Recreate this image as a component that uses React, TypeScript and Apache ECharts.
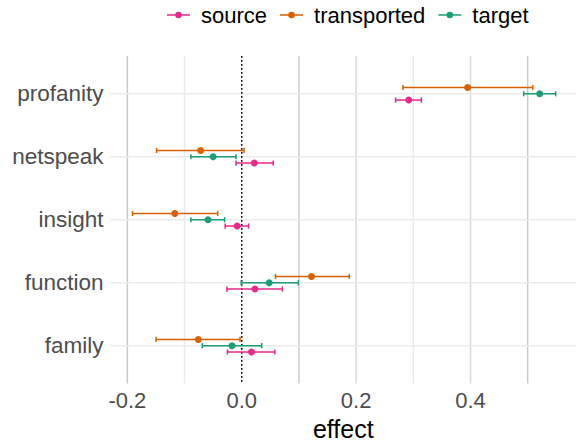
import React, { useEffect, useRef } from "react";
import * as echarts from "echarts";

// categories bottom -> top
const categories = ["family", "function", "insight", "netspeak", "profanity"];
const seriesNames = ["source", "transported", "target"];

const sourceEst = [0.017, 0.023, -0.008, 0.022, 0.292];
const sourceLo = [-0.025, -0.026, -0.029, -0.010, 0.269];
const sourceHi = [0.058, 0.071, 0.012, 0.055, 0.314];

const transportedEst = [-0.076, 0.122, -0.117, -0.072, 0.395];
const transportedLo = [-0.150, 0.059, -0.191, -0.149, 0.282];
const transportedHi = [-0.003, 0.188, -0.042, 0.004, 0.509];

const targetEst = [-0.017, 0.048, -0.059, -0.050, 0.521];
const targetLo = [-0.069, -0.001, -0.089, -0.089, 0.493];
const targetHi = [0.035, 0.099, -0.030, -0.010, 0.549];

const xTickLabels = [-0.2, 0.0, 0.2, 0.4];
const xGridValues = [-0.2, -0.1, 0.0, 0.1, 0.2, 0.3, 0.4, 0.5];
const xGridColors = ["#c9c9c9", "#ebebeb", "#ebebeb", "#cbcbcb", "#d9d9d9", "#ebebeb", "#d9d9d9", "#c9c9c9"];

const colors: Record<string, string> = {
  source: "#E7298A",
  transported: "#D95F02",
  target: "#1B9E77",
};
const dodge: Record<string, number> = { source: -0.1, transported: 0.1, target: 0 };

const FONT = "'Liberation Sans', Helvetica, Arial, sans-serif";

const legendIcon =
  "path://M0,3.3H23V4.7H0Z M8.2,4A3.3,3.3 0 1,1 14.8,4A3.3,3.3 0 1,1 8.2,4Z";

export default function App() {
  const ref = useRef<HTMLDivElement>(null);
  useEffect(() => {
    document.body.style.margin = "0";
    const chart = echarts.init(ref.current!, null, { renderer: "svg" });
    const groups: Record<string, number[][]> = {
      source: [sourceEst, sourceLo, sourceHi],
      transported: [transportedEst, transportedLo, transportedHi],
      target: [targetEst, targetLo, targetHi],
    };

    const series: any[] = [];
    // vertical grid lines (x) and zero reference line
    series.push({
      type: "custom",
      name: "_vgrid",
      silent: true,
      z: 1,
      data: xGridValues.map((v, i) => [v, i]),
      encode: { x: 0 },
      renderItem: (params: any, api: any) => {
        const cs = params.coordSys;
        const v = api.value(0);
        const x = api.coord([v, 1])[0];
        const i = api.value(1);
        return {
          type: "line",
          shape: { x1: x, y1: cs.y, x2: x, y2: cs.y + cs.height },
          style: { stroke: xGridColors[i], lineWidth: 1.5 },
        };
      },
    });
    series.push({
      type: "custom",
      name: "_hgrid",
      silent: true,
      z: 1,
      data: categories.map((_, i) => [i + 1]),
      encode: { y: 0 },
      renderItem: (params: any, api: any) => {
        const cs = params.coordSys;
        const y = api.coord([0, api.value(0)])[1];
        return {
          type: "line",
          shape: { x1: cs.x, y1: y, x2: cs.x + cs.width, y2: y },
          style: { stroke: "#ebebeb", lineWidth: 1.5 },
        };
      },
    });
    series.push({
      type: "custom",
      name: "_zero",
      silent: true,
      z: 2,
      data: [[0]],
      encode: { x: 0 },
      renderItem: (params: any, api: any) => {
        const cs = params.coordSys;
        const x = api.coord([api.value(0), 1])[0];
        return {
          type: "line",
          shape: { x1: x, y1: cs.y, x2: x, y2: cs.y + cs.height },
          style: { stroke: "#000", lineWidth: 1.4, lineDash: [1.8, 2.2] },
        };
      },
    });

    seriesNames.forEach((name) => {
      const [est, lo, hi] = groups[name];
      const color = colors[name];
      series.push({
        type: "custom",
        name,
        z: 3,
        silent: true,
        itemStyle: { color },
        data: categories.map((_, i) => [lo[i], hi[i], i + 1 + dodge[name], est[i]]),
        encode: { x: [0, 1, 3], y: 2 },
        renderItem: (params: any, api: any) => {
          const y = api.value(2);
          const a = api.coord([api.value(0), y]);
          const b = api.coord([api.value(1), y]);
          const c = api.coord([api.value(3), y]);
          const h = 2.6;
          const style = { stroke: color, lineWidth: 1.5, fill: null };
          return {
            type: "group",
            children: [
              { type: "line", shape: { x1: a[0], y1: a[1], x2: b[0], y2: b[1] }, style },
              { type: "line", shape: { x1: a[0], y1: a[1] - h, x2: a[0], y2: a[1] + h }, style },
              { type: "line", shape: { x1: b[0], y1: b[1] - h, x2: b[0], y2: b[1] + h }, style },
              { type: "circle", shape: { cx: c[0], cy: c[1], r: 3.5 }, style: { fill: color, stroke: null } },
            ],
          };
        },
      });
    });

    chart.setOption({
      animation: false,
      textStyle: { fontFamily: FONT },
      color: seriesNames.map((n) => colors[n]),
      legend: {
        data: seriesNames.map((n) => ({ name: n, icon: legendIcon, itemStyle: { color: colors[n] } })),
        left: 162,
        top: -1,
        itemWidth: 23,
        itemHeight: 8,
        itemGap: 13,
        textStyle: { fontSize: 22, color: "#000", fontFamily: FONT, padding: [0, 0, 0, 6] },
        selectedMode: false,
      },
      grid: { left: 110.5, right: 1, top: 56, bottom: 58.5, containLabel: false, outerBoundsMode: "none" },
      xAxis: {
        type: "value",
        min: -0.2295,
        max: 0.5845,
        axisLine: { show: false },
        axisTick: { show: false },
        splitLine: { show: false },
        axisLabel: {
          customValues: xTickLabels,
          formatter: (v: number) => v.toFixed(1),
          fontSize: 22,
          color: "#4d4d4d",
          margin: 6,
          fontFamily: FONT,
        },
        name: "effect",
        nameLocation: "middle",
        nameGap: 31,
        nameTextStyle: { fontSize: 25, color: "#000", fontFamily: FONT, lineHeight: 26 },
      },
      yAxis: {
        type: "value",
        min: 0.4,
        max: 5.6,
        axisLine: { show: false },
        axisTick: { show: false },
        splitLine: { show: false },
        axisLabel: {
          customValues: categories.map((_, i) => i + 1),
          formatter: (v: number) => categories[Math.round(v) - 1] ?? "",
          fontSize: 22.5,
          color: "#4d4d4d",
          margin: 7,
          fontFamily: FONT,
        },
      },
      series,
    });
    return () => chart.dispose();
  }, []);
  return <div ref={ref} style={{ width: 577, height: 442 }} />;
}
